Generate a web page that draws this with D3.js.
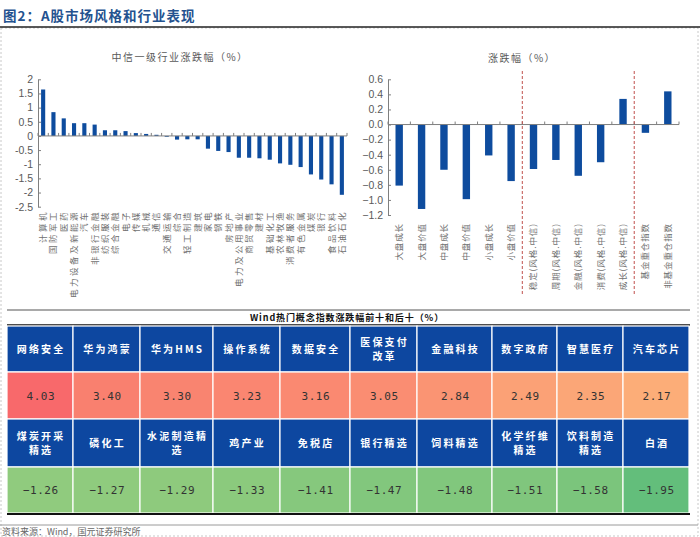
<!DOCTYPE html>
<html><head><meta charset="utf-8">
<script src="https://cdn.jsdelivr.net/npm/d3@7"></script>
<style>body{margin:0;background:#fff}svg{display:block}</style>
</head><body>
<svg id="c" width="700" height="537"></svg>
<script>
// ---------- DATA ----------
const industries = ["计算机","国防军工","医药","电力设备及新能源","汽车","非银行金融","纺织服装","综合金融","电子","传媒","机械","通信","交通运输","综合","轻工制造","建筑","家电","钢铁","房地产","电力及公用事业","商贸零售","建材","基础化工","农林牧渔","消费者服务","有色金属","煤炭","银行","食品饮料","石油石化"];
const industryChanges = [1.64,0.84,0.62,0.45,0.45,0.40,0.20,0.20,0.17,0.10,0.07,0.04,-0.03,-0.13,-0.12,-0.12,-0.45,-0.53,-0.57,-0.77,-0.77,-0.79,-0.84,-0.97,-1.02,-1.10,-1.36,-1.54,-1.71,-2.08];
const industryTicks = [2,1.5,1,0.5,0,-0.5,-1,-1.5,-2,-2.5];

const styles = ["大盘成长","大盘价值","中盘成长","中盘价值","小盘成长","小盘价值","稳定(风格.中信)","周期(风格.中信)","金融(风格.中信)","消费(风格.中信)","成长(风格.中信)","基金重仓指数","非基金重仓指数"];
const styleChanges = [-0.81,-1.12,-0.60,-0.99,-0.41,-0.75,-0.59,-0.47,-0.68,-0.50,0.34,-0.11,0.44];
const styleTicks = [0.6,0.4,0.2,0.0,-0.2,-0.4,-0.6,-0.8,-1.0,-1.2];
const styleDividers = ["稳定(风格.中信)","基金重仓指数"];

const topConcepts = ["网络安全","华为鸿蒙","华为HMS","操作系统","数据安全","医保支付\n改革","金融科技","数字政府","智慧医疗","汽车芯片"];
const topValues = [4.03,3.40,3.30,3.23,3.16,3.05,2.84,2.49,2.35,2.17];
const bottomConcepts = ["煤炭开采\n精选","磷化工","水泥制造精\n选","鸡产业","免税店","银行精选","饲料精选","化学纤维\n精选","饮料制造\n精选","白酒"];
const bottomValues = [-1.26,-1.27,-1.29,-1.33,-1.41,-1.47,-1.48,-1.51,-1.58,-1.95];

// ---------- LAYOUT ----------
const svg = d3.select("#c");
const CJK = "'Noto Sans CJK SC','Noto Sans',sans-serif";
const gray = "#595959";
const barBlue = "#0E4C9E";

// frame
svg.append("rect").attr("x",1).attr("y",28).attr("width",697).attr("height",508)
  .attr("fill","none").attr("stroke","#c8c8c8").attr("stroke-dasharray","2,2");
svg.append("text").attr("x",3).attr("y",21).text("图2：A股市场风格和行业表现")
  .attr("font-family",CJK).attr("font-weight","bold").attr("font-size",13.5)
  .style("letter-spacing","1px").attr("fill","#24528f");
svg.append("line").attr("x1",0).attr("x2",700).attr("y1",27).attr("y2",27)
  .attr("stroke","#222").attr("stroke-width",1.5);

function barChart(opt){
  const g = svg.append("g");
  const x = d3.scaleBand().domain(opt.cats).range(opt.xr)
    .paddingInner(opt.pad).paddingOuter(opt.pad/2);
  const y = d3.scaleLinear().domain(opt.yd).range(opt.yr);
  // title
  g.append("text").attr("x",opt.titleX).attr("y",opt.titleY).attr("text-anchor","middle")
    .attr("font-family",CJK).attr("font-size",10).style("letter-spacing","1.5px")
    .attr("fill",gray).text(opt.title);
  // y axis
  const ax = d3.axisLeft(y).tickValues(opt.ticks).tickFormat(opt.fmt)
    .tickSizeInner(-3).tickSizeOuter(0).tickPadding(5);
  const ag = g.append("g").attr("transform",`translate(${opt.xr[0]},0)`).call(ax);
  ag.selectAll("path,line").attr("stroke","#7f7f7f");
  ag.selectAll("text").attr("font-family","Arial,'Liberation Sans',sans-serif")
    .attr("font-size",10.5).attr("fill",gray);
  // bars
  g.selectAll("rect.bar").data(opt.vals).join("rect").attr("class","bar")
    .attr("x",(d,i)=>x(opt.cats[i]))
    .attr("width",x.bandwidth())
    .attr("y",d=>y(Math.max(0,d)))
    .attr("height",d=>Math.abs(y(d)-y(0)))
    .attr("fill",barBlue);
  // x axis at zero
  const y0 = y(0);
  g.append("line").attr("x1",opt.xr[0]).attr("x2",opt.xr[1]).attr("y1",y0).attr("y2",y0)
    .attr("stroke","#7f7f7f");
  const bounds = d3.range(opt.cats.length+1).map(i=>opt.xr[0]+i*x.step());
  g.selectAll("line.tk").data(bounds).join("line").attr("class","tk")
    .attr("x1",d=>d).attr("x2",d=>d).attr("y1",y0).attr("y2",y0-3).attr("stroke","#7f7f7f");
  // category labels
  g.selectAll("text.cat").data(opt.cats).join("text").attr("class","cat")
    .attr("transform",d=>`translate(${x(d)+x.bandwidth()/2},${opt.labelTop}) rotate(-90)`)
    .attr("text-anchor","end").attr("dy","0.35em")
    .attr("font-family",CJK).attr("font-size",opt.fs).style("letter-spacing",opt.ls+"px")
    .attr("fill","#707070").text(d=>d);
  return {x,y,g};
}

barChart({cats:industries, vals:industryChanges, xr:[38,347], pad:0.6,
  yd:[-2.5,2], yr:[206.7,79.3], ticks:industryTicks, fmt:d=>String(d),
  title:"中信一级行业涨跌幅（%）", titleX:180, titleY:61, labelTop:210, fs:8.5, ls:2.5});

const right = barChart({cats:styles, vals:styleChanges, xr:[388,679], pad:0.67,
  yd:[-1.2,0.6], yr:[215,79.3], ticks:styleTicks, fmt:d3.format(".1f"),
  title:"涨跌幅（%）", titleX:522, titleY:62, labelTop:223, fs:8.5, ls:0.9});
right.g.selectAll("line.div").data(styleDividers).join("line").attr("class","div")
  .attr("x1",d=>right.x(d)-right.x.step()*right.x.paddingInner()/2)
  .attr("x2",d=>right.x(d)-right.x.step()*right.x.paddingInner()/2)
  .attr("y1",71).attr("y2",296).attr("stroke","#c0504d").attr("stroke-width",1)
  .attr("stroke-dasharray","3,2");

// ---------- TABLE ----------
const colEdges = [7,73,140,213,280,350,417,492,557,623,689];
const allVals = topValues.concat(bottomValues);
const med = d3.median(allVals);
const heat = d3.scaleLinear().domain([d3.min(allVals),med,d3.max(allVals)])
  .range(["#63BE7B","#FFEB84","#F8696B"]);

svg.append("line").attr("x1",7).attr("x2",690).attr("y1",310).attr("y2",310)
  .attr("stroke","#8c8c8c").attr("stroke-width",1.5);
svg.append("text").attr("x",347).attr("y",321).attr("text-anchor","middle")
  .attr("font-family",CJK).attr("font-weight","bold").attr("font-size",9)
  .style("letter-spacing","0.9px").attr("fill","#111").text("Wind热门概念指数涨跌幅前十和后十（%）");
svg.append("line").attr("x1",7).attr("x2",690).attr("y1",325).attr("y2",325)
  .attr("stroke","#111").attr("stroke-width",1.5);

const rows = [
  {y:326,h:46,kind:"head",items:topConcepts},
  {y:372,h:47,kind:"val",items:topValues},
  {y:419,h:48,kind:"head",items:bottomConcepts},
  {y:467,h:46,kind:"val",items:bottomValues}
];
rows.forEach(r=>{
  const g = svg.append("g");
  g.selectAll("rect").data(r.items).join("rect")
    .attr("x",(d,i)=>colEdges[i]).attr("y",r.y)
    .attr("width",(d,i)=>colEdges[i+1]-colEdges[i]).attr("height",r.h)
    .attr("fill",d=>r.kind==="head"?"#0D47A0":heat(d))
    .attr("stroke","#fff").attr("stroke-width",1.2);
  if(r.kind==="head"){
    r.items.forEach((d,i)=>{
      const lines = d.split("\n");
      const cx = (colEdges[i]+colEdges[i+1])/2;
      const cy = r.y + r.h/2;
      const t = g.append("text").attr("text-anchor","middle")
        .attr("font-family",CJK).attr("font-weight","bold").attr("font-size",10)
        .style("letter-spacing","2.2px").attr("fill","#fff");
      lines.forEach((ln,k)=>{
        t.append("tspan").attr("x",cx+1.1)
          .attr("y",cy + (k-(lines.length-1)/2)*14 + 3.5).text(ln);
      });
    });
  } else {
    g.selectAll("text").data(r.items).join("text")
      .attr("x",(d,i)=>(colEdges[i]+colEdges[i+1])/2+0.8)
      .attr("y",r.y+r.h/2+4).attr("text-anchor","middle")
      .attr("font-family","'DejaVu Sans Mono','Liberation Mono',monospace").attr("font-size",11)
      .style("letter-spacing","0.5px").attr("fill","#333")
      .text(d=>d.toFixed(2).replace("-","−"));
  }
});
svg.append("line").attr("x1",7).attr("x2",690).attr("y1",514).attr("y2",514)
  .attr("stroke","#111").attr("stroke-width",2);
svg.append("line").attr("x1",0).attr("x2",698).attr("y1",525).attr("y2",525)
  .attr("stroke","#9a9a9a").attr("stroke-width",1);
svg.append("text").attr("x",2).attr("y",535).attr("font-family",CJK).attr("font-size",9)
  .attr("fill","#666").text("资料来源：Wind，国元证券研究所");
</script>
</body></html>
